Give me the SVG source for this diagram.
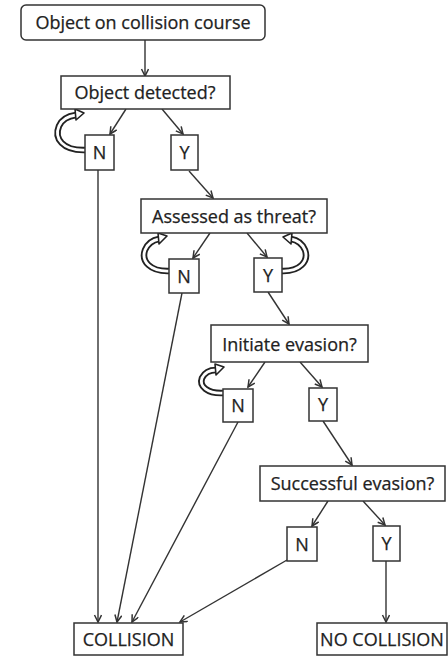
<svg xmlns="http://www.w3.org/2000/svg" width="448" height="657" viewBox="0 0 448 657">
<style>
.box{fill:#fff;stroke:#333;stroke-width:1.5}
.t{font-family:"Open Sans","Liberation Sans",sans-serif;font-size:18px;fill:#222;text-anchor:middle;stroke:#222;stroke-width:0.25}
.c{fill:none;stroke:#333;stroke-width:1.4}
.lo{fill:none;stroke:#222;stroke-width:6.5}
.li{fill:none;stroke:#fff;stroke-width:2.8}
.ah{fill:#fff;stroke:#222;stroke-width:1.6;stroke-linejoin:round}
</style>
<defs>
<marker id="arr" markerWidth="10" markerHeight="10" refX="8" refY="4" orient="auto" markerUnits="userSpaceOnUse">
<path d="M1,0.5 L8,4 L1,7.5" fill="none" stroke="#333" stroke-width="1.5"/>
</marker>
</defs>
<rect width="448" height="657" fill="#fff"/>
<g id="connectors">
<line class="c" x1="145" y1="40" x2="145" y2="76" marker-end="url(#arr)"/>
<line class="c" x1="126" y1="109" x2="110" y2="134" marker-end="url(#arr)"/>
<line class="c" x1="162" y1="109" x2="183" y2="134" marker-end="url(#arr)"/>
<line class="c" x1="189" y1="171" x2="213" y2="198" marker-end="url(#arr)"/>
<line class="c" x1="210" y1="233" x2="193" y2="258" marker-end="url(#arr)"/>
<line class="c" x1="247" y1="233" x2="267" y2="257" marker-end="url(#arr)"/>
<line class="c" x1="268" y1="292" x2="289" y2="324" marker-end="url(#arr)"/>
<line class="c" x1="265" y1="362" x2="248" y2="387" marker-end="url(#arr)"/>
<line class="c" x1="300" y1="362" x2="322" y2="387" marker-end="url(#arr)"/>
<line class="c" x1="323" y1="421" x2="352" y2="465" marker-end="url(#arr)"/>
<line class="c" x1="328" y1="501" x2="312" y2="526" marker-end="url(#arr)"/>
<line class="c" x1="363" y1="501" x2="385" y2="525" marker-end="url(#arr)"/>
<line class="c" x1="98" y1="170" x2="98" y2="622" marker-end="url(#arr)"/>
<line class="c" x1="182" y1="293" x2="117" y2="622" marker-end="url(#arr)"/>
<line class="c" x1="238" y1="422" x2="132" y2="622" marker-end="url(#arr)"/>
<line class="c" x1="287" y1="560" x2="180" y2="622" marker-end="url(#arr)"/>
<line class="c" x1="386" y1="561" x2="386" y2="622" marker-end="url(#arr)"/>
<g id="loop1">
<path class="lo" d="M86,150 C62,151 54,138 59,126 C62,119 69,116 76,115"/>
<path class="li" d="M86,150 C62,151 54,138 59,126 C62,119 69,116 76,115"/>
<path class="ah" d="M75,109 L84,113 L76,120 Z"/>
</g>
<g id="loop2">
<path class="lo" d="M170,271 C150,272 141,261 145,250 C148,243 153,240 159,239"/>
<path class="li" d="M170,271 C150,272 141,261 145,250 C148,243 153,240 159,239"/>
<path class="ah" d="M158,233 L167,236 L159,244 Z"/>
</g>
<g id="loop3">
<path class="lo" d="M281,271 C300,272 309,261 305,250 C302,243 297,240 291,239"/>
<path class="li" d="M281,271 C300,272 309,261 305,250 C302,243 297,240 291,239"/>
<path class="ah" d="M292,233 L283,237 L291,244 Z"/>
</g>
<g id="loop4">
<path class="lo" d="M224,393 C207,394 199,386 202,378 C205,372 210,370 216,370"/>
<path class="li" d="M224,393 C207,394 199,386 202,378 C205,372 210,370 216,370"/>
<path class="ah" d="M215,364 L224,367 L216,375 Z"/>
</g>
</g>
<g id="start"><rect class="box" x="21" y="5" width="244" height="35" rx="5" stroke-width="2.4"/><text class="t" x="143" y="29">Object on collision course</text></g>
<g id="detected"><rect class="box" x="61" y="76" width="169" height="33"/><text class="t" x="145" y="99">Object detected?</text></g>
<g id="n1"><rect class="box" x="85" y="135" width="29" height="35"/><text class="t" x="99.5" y="159">N</text></g>
<g id="y1"><rect class="box" x="171" y="135" width="27" height="35"/><text class="t" x="184.5" y="159">Y</text></g>
<g id="threat"><rect class="box" x="141" y="199" width="186" height="34"/><text class="t" x="234" y="223">Assessed as threat?</text></g>
<g id="n2"><rect class="box" x="169" y="259" width="30" height="34"/><text class="t" x="184" y="283">N</text></g>
<g id="y2"><rect class="box" x="254" y="258" width="28" height="34"/><text class="t" x="268" y="282">Y</text></g>
<g id="initiate"><rect class="box" x="211" y="325" width="157" height="37"/><text class="t" x="289.5" y="351">Initiate evasion?</text></g>
<g id="n3"><rect class="box" x="223" y="389" width="30" height="33"/><text class="t" x="238" y="412">N</text></g>
<g id="y3"><rect class="box" x="309" y="388" width="28" height="33"/><text class="t" x="323" y="411">Y</text></g>
<g id="success"><rect class="box" x="260" y="466" width="185" height="35"/><text class="t" x="352.5" y="490">Successful evasion?</text></g>
<g id="n4"><rect class="box" x="287" y="527" width="30" height="34"/><text class="t" x="302" y="551">N</text></g>
<g id="y4"><rect class="box" x="373" y="526" width="27" height="35"/><text class="t" x="386.5" y="550">Y</text></g>
<g id="collision"><rect class="box" x="74" y="623" width="109" height="32" stroke-width="2"/><text class="t" x="128.5" y="646">COLLISION</text></g>
<g id="nocollision"><rect class="box" x="317" y="623" width="130" height="32" stroke-width="2"/><text class="t" x="382" y="646">NO COLLISION</text></g>
</svg>
